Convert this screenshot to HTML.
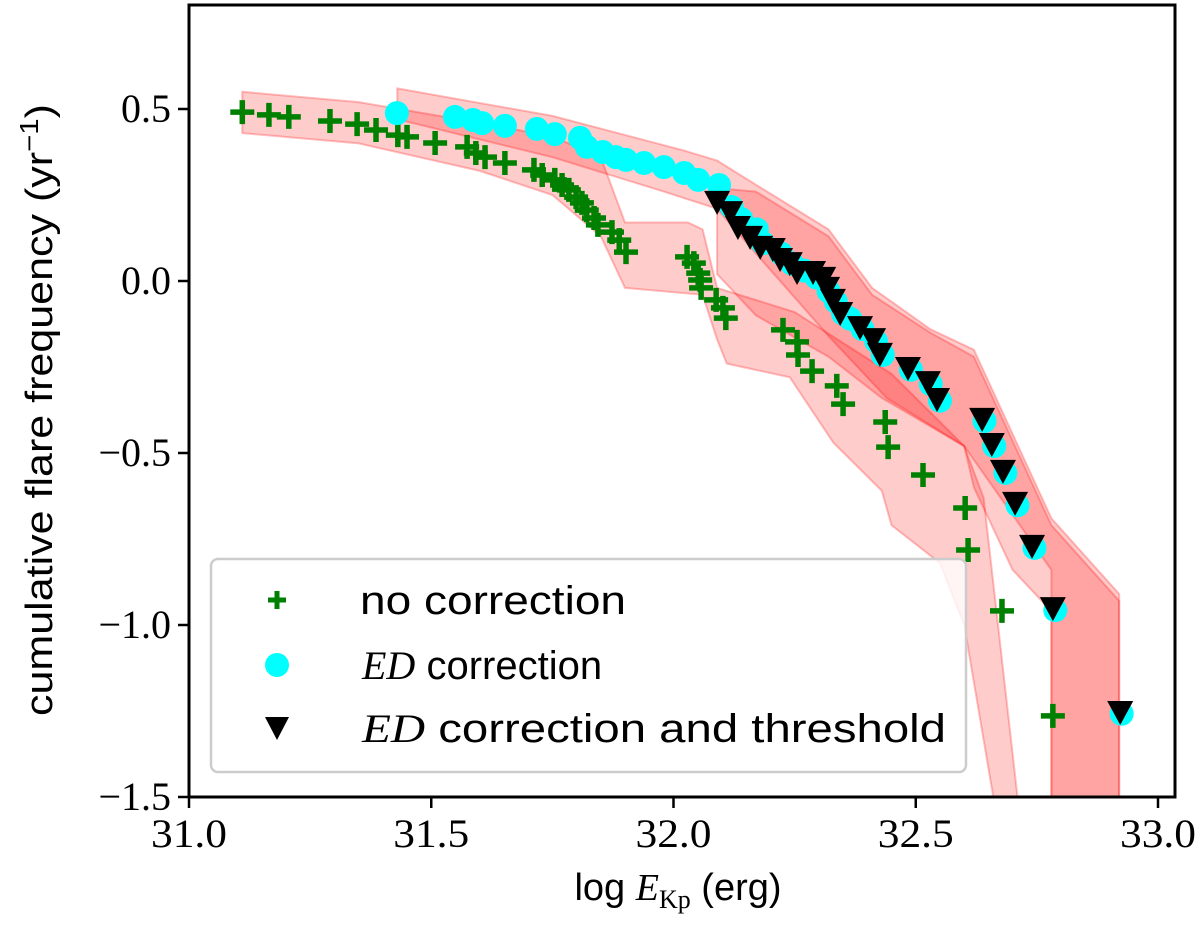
<!DOCTYPE html>
<html><head><meta charset="utf-8"><style>
html,body{margin:0;padding:0;background:#fff;}
svg{display:block;}
</style></head><body>
<svg id="chart" width="1200" height="929" viewBox="0 0 1200 929" xmlns="http://www.w3.org/2000/svg"></svg>
<script>
const xTicks=[31.0,31.5,32.0,32.5,33.0];
const xTickLabels=["31.0","31.5","32.0","32.5","33.0"];
const yTicks=[0.5,0.0,-0.5,-1.0,-1.5];
const yTickLabels=["0.5","0.0","\u22120.5","\u22121.0","\u22121.5"];

const noCorrX=[31.110,31.165,31.206,31.291,31.347,31.386,31.431,31.450,31.508,31.574,31.592,31.611,31.652,31.712,31.729,31.755,31.770,31.784,31.799,31.811,31.821,31.836,31.844,31.873,31.888,31.902,32.028,32.042,32.051,32.055,32.057,32.088,32.102,32.108,32.226,32.255,32.257,32.286,32.337,32.350,32.437,32.443,32.515,32.602,32.608,32.678,32.783];
const noCorrY=[0.491,0.483,0.477,0.465,0.456,0.439,0.424,0.419,0.401,0.390,0.372,0.360,0.343,0.323,0.308,0.294,0.279,0.265,0.244,0.227,0.206,0.183,0.163,0.142,0.119,0.084,0.070,0.052,0.023,0.003,-0.020,-0.055,-0.078,-0.108,-0.142,-0.177,-0.215,-0.262,-0.305,-0.358,-0.410,-0.483,-0.564,-0.660,-0.782,-0.959,-1.264];

const edX=[31.429,31.549,31.586,31.605,31.652,31.718,31.755,31.807,31.821,31.854,31.881,31.902,31.939,31.980,32.022,32.051,32.094,32.120,32.140,32.172,32.185,32.222,32.245,32.270,32.295,32.320,32.335,32.350,32.365,32.390,32.418,32.432,32.490,32.531,32.550,32.642,32.662,32.685,32.710,32.745,32.788,32.925];
const edY=[0.488,0.477,0.468,0.459,0.451,0.442,0.427,0.416,0.390,0.375,0.360,0.352,0.343,0.331,0.314,0.294,0.279,0.215,0.180,0.150,0.110,0.080,0.050,0.030,0.010,-0.030,-0.060,-0.095,-0.110,-0.140,-0.175,-0.215,-0.258,-0.300,-0.348,-0.407,-0.480,-0.558,-0.652,-0.776,-0.957,-1.258];

const thrX=[32.090,32.117,32.133,32.158,32.179,32.205,32.220,32.240,32.255,32.288,32.309,32.317,32.329,32.344,32.385,32.412,32.426,32.484,32.525,32.544,32.637,32.657,32.680,32.705,32.740,32.783,32.922];
const thrY=[0.233,0.203,0.160,0.131,0.102,0.096,0.067,0.055,0.029,0.029,0.012,-0.017,-0.052,-0.090,-0.131,-0.166,-0.209,-0.250,-0.291,-0.340,-0.398,-0.471,-0.549,-0.642,-0.767,-0.948,-1.250];

const bandNoHiX=[31.11,31.35,31.60,31.75,31.85,31.90,32.03,32.06,32.09,32.25,32.45,32.60,32.64,32.71];
const bandNoHi=[0.55,0.52,0.46,0.42,0.36,0.17,0.17,0.15,-0.02,-0.09,-0.27,-0.48,-0.63,-1.5];
const bandNoLoX=[31.11,31.35,31.60,31.75,31.85,31.90,32.06,32.09,32.11,32.24,32.33,32.43,32.45,32.55,32.60,32.66];
const bandNoLo=[0.43,0.40,0.32,0.25,0.13,-0.02,-0.04,-0.17,-0.24,-0.28,-0.47,-0.61,-0.71,-0.82,-1.0,-1.5];

const bandEdHiX=[31.43,31.75,32.02,32.09,32.17,32.32,32.41,32.53,32.62,32.78,32.92,32.92];
const bandEdHi=[0.56,0.48,0.38,0.35,0.28,0.15,-0.02,-0.14,-0.20,-0.69,-0.91,-1.5];
const bandEdLoX=[31.43,31.75,31.98,32.09,32.17,32.32,32.44,32.60,32.78,32.78];
const bandEdLo=[0.47,0.36,0.26,0.21,0.08,-0.16,-0.34,-0.48,-0.84,-1.5];

const bandThHiX=[32.09,32.17,32.32,32.41,32.53,32.62,32.78,32.92,32.92];
const bandThHi=[0.27,0.26,0.13,-0.04,-0.15,-0.22,-0.71,-0.93,-1.5];
const bandThLoX=[32.09,32.09,32.17,32.32,32.43,32.60,32.62,32.70,32.78,32.78];
const bandThLo=[0.27,0.02,-0.10,-0.22,-0.34,-0.48,-0.60,-0.84,-0.96,-1.5];

const NS="http://www.w3.org/2000/svg";
const svg=document.getElementById('chart');
const L=189,R=1175,T=5,B=797;
const X0=31.0,X1=31.0+(R-L)/484.5,Y0=-1.5,Y1=0.5+104/344;
function xs(v){return L+(v-X0)/(X1-X0)*(R-L);}
function ys(v){return B-(v-Y0)/(Y1-Y0)*(B-T);}
function mk(tag,attrs,parent){const e=document.createElementNS(NS,tag);for(const k in attrs)e.setAttribute(k,attrs[k]);(parent||svg).appendChild(e);return e;}

const defs=mk('defs',{});
const cp=mk('clipPath',{id:'plotclip'},defs);
mk('rect',{x:L,y:T,width:R-L,height:B-T},cp);

const plot=mk('g',{'clip-path':'url(#plotclip)'});



function band(hx,hy,lx,ly,name){
  let pts=[];
  for(let i=0;i<hx.length;i++)pts.push(xs(hx[i]).toFixed(1)+','+ys(hy[i]).toFixed(1));
  for(let i=lx.length-1;i>=0;i--)pts.push(xs(lx[i]).toFixed(1)+','+ys(ly[i]).toFixed(1));
  const p=mk('polygon',{points:pts.join(' '),fill:'rgba(255,0,0,0.2)',stroke:'rgba(255,0,0,0.25)','stroke-width':2},plot);
  
  
}
band(bandNoHiX,bandNoHi,bandNoLoX,bandNoLo,'band-no-correction');
band(bandEdHiX,bandEdHi,bandEdLoX,bandEdLo,'band-ed-correction');
band(bandThHiX,bandThHi,bandThLoX,bandThLo,'band-ed-threshold');

const gNo=mk('g',{},plot);


for(let i=0;i<noCorrX.length;i++){
  const cx=xs(noCorrX[i]),cy=ys(noCorrY[i]);
  const p=mk('path',{d:`M${cx-12},${cy}H${cx+12}M${cx},${cy-12}V${cy+12}`,stroke:'#008000','stroke-width':5.5,fill:'none'},gNo);
  
  
}
const gEd=mk('g',{},plot);


for(let i=0;i<edX.length;i++){
  const c=mk('circle',{cx:xs(edX[i]),cy:ys(edY[i]),r:12,fill:'#00ffff'},gEd);
  
  
}
const gTh=mk('g',{},plot);


for(let i=0;i<thrX.length;i++){
  const cx=xs(thrX[i]),cy=ys(thrY[i]);
  const p=mk('path',{d:`M${cx-13},${cy-10}L${cx+13},${cy-10}L${cx},${cy+14}Z`,fill:'#000'},gTh);
  
  
}

const frame=mk('rect',{x:L,y:T,width:R-L,height:B-T,fill:'none',stroke:'#000','stroke-width':3});



for(let i=0;i<xTicks.length;i++){
  const x=xs(xTicks[i]);
  const t=mk('line',{x1:x,x2:x,y1:B,y2:B+11,stroke:'#000','stroke-width':2.5});
  
  
  const tx=mk('text',{x:x,y:B+50,'text-anchor':'middle','font-family':'Liberation Serif, serif','font-size':40,textLength:76,lengthAdjust:'spacingAndGlyphs'});
  tx.textContent=xTickLabels[i];
  
  
}
for(let i=0;i<yTicks.length;i++){
  const y=ys(yTicks[i]);
  const t=mk('line',{x1:L-11,x2:L,y1:y,y2:y,stroke:'#000','stroke-width':2.5});
  
  
  const tx=mk('text',{x:L-18,y:y+13,'text-anchor':'end','font-family':'Liberation Serif, serif','font-size':40});
  tx.textContent=yTickLabels[i];
  
  
}

const yt=mk('text',{x:0,y:0,transform:'translate(52,410) rotate(-90)','text-anchor':'middle','font-family':'Liberation Sans, sans-serif','font-size':38,textLength:612,lengthAdjust:'spacingAndGlyphs'});
yt.innerHTML='cumulative flare frequency (yr<tspan dy="-14" font-size="26">\u22121</tspan><tspan dy="14">)</tspan>';



const xt=mk('text',{x:678,y:900,'text-anchor':'middle','font-family':'Liberation Sans, sans-serif','font-size':38});
xt.innerHTML='log <tspan font-family="Liberation Serif, serif" font-style="italic">E</tspan><tspan font-family="Liberation Serif, serif" font-size="26" dy="8">Kp</tspan><tspan dy="-8"> (erg)</tspan>';



const lg=mk('g',{});


mk('rect',{x:211,y:559,width:755,height:213,rx:7,fill:'rgba(255,255,255,0.8)',stroke:'#cccccc','stroke-width':2.5},lg);
const rows=[600,665,728];
let e1=mk('g',{},lg);


mk('path',{d:`M268,${rows[0]}H286M277,${rows[0]-9}V${rows[0]+9}`,stroke:'#008000','stroke-width':5},e1);
let t1=mk('text',{x:360,y:rows[0]+14,'font-family':'Liberation Sans, sans-serif','font-size':40,textLength:266,lengthAdjust:'spacingAndGlyphs'},e1);
t1.textContent='no correction';
let e2=mk('g',{},lg);


mk('ellipse',{cx:277,cy:rows[1],rx:12,ry:12,fill:'#00ffff'},e2);
let t2=mk('text',{x:362,y:rows[1]+14,'font-family':'Liberation Sans, sans-serif','font-size':40},e2);
t2.innerHTML='<tspan font-family="Liberation Serif, serif" font-style="italic">ED</tspan> correction';
let e3=mk('g',{},lg);


mk('path',{d:`M265,${rows[2]-11}L289,${rows[2]-11}L277,${rows[2]+12}Z`,fill:'#000'},e3);
let t3=mk('text',{x:362,y:rows[2]+14,'font-family':'Liberation Sans, sans-serif','font-size':40,textLength:584,lengthAdjust:'spacingAndGlyphs'},e3);
t3.innerHTML='<tspan font-family="Liberation Serif, serif" font-style="italic">ED</tspan> correction and threshold';
</script>
</body></html>
